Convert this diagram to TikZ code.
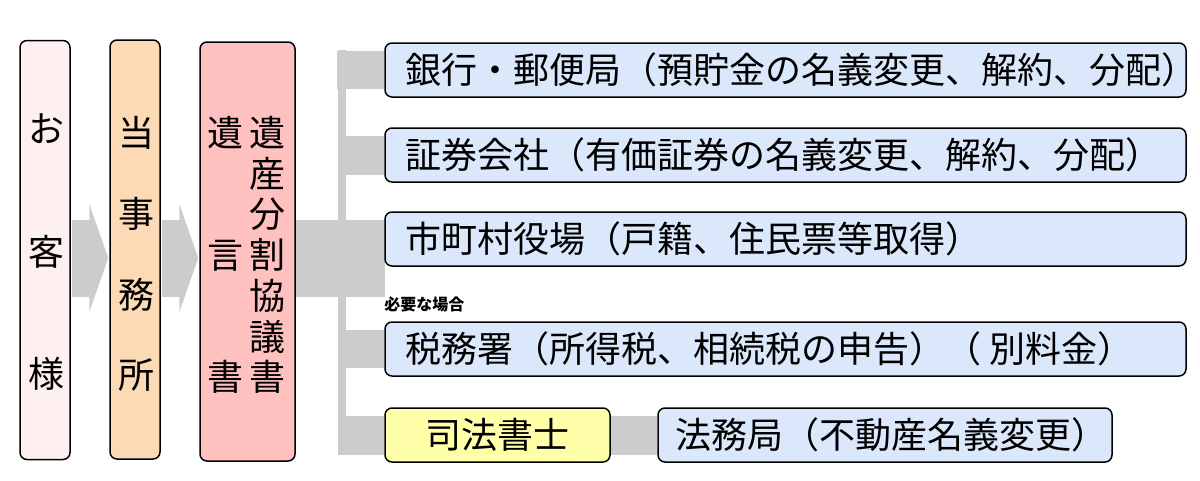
\documentclass[tikz,border=0pt]{standalone}
\usepackage{fontspec}
\setmainfont{Noto Sans CJK JP}
\usetikzlibrary{arrows.meta,backgrounds}
\definecolor{kyakufill}{RGB}{255,240,240}
\definecolor{jimufill}{RGB}{252,218,182}
\definecolor{isanfill}{RGB}{255,192,192}
\definecolor{bluefill}{RGB}{219,231,250}
\definecolor{yellowfill}{RGB}{255,255,170}
\definecolor{barfill}{RGB}{204,204,204}

\begin{document}
\begin{tikzpicture}[x=1pt, y=-1pt,
	frame/.style={draw=black, line width=1.5pt, rounded corners=7pt, inner sep=0pt},
	tallbox/.style={frame, minimum height=419pt},
	bluebox/.style={frame, fill=bluefill, minimum width=801pt, minimum height=54pt},
	bar/.style={draw=barfill},
	flow/.style={bar, line width=77pt, -{Triangle[length=19pt, width=108pt]}, shorten <=1pt, shorten >=1pt},
	lbl/.style={inner sep=0pt, font=\fontsize{36}{42}\selectfont},
	vlbl/.style={inner sep=0pt, align=center, font=\fontsize{36}{#1}\selectfont}]
			%%%%% START %%%%%
			\useasboundingbox (0, 0) rectangle (1200, 480);
			
			% left column
			\node[tallbox, fill=kyakufill, minimum width=50pt] (kyaku) at (45, 250) {};
			\node[tallbox, fill=jimufill, minimum width=50pt] (jimu) at (135, 249.5) {};
			\node[tallbox, fill=isanfill, minimum width=95pt] (isan) at (247.5, 251.5) {};
			
			\node[vlbl=122.5] (kyakutext) at (46, 252.5) {お\\客\\様};
			\node[vlbl=80.7] (jimutext) at (136, 254) {当\\事\\務\\所};
			\node[vlbl=122] (yuigon) at (225, 255) {遺\\言\\書};
			\node[vlbl=40.7] (kyogi) at (267, 255) {遺\\産\\分\\割\\協\\議\\書};
			
			% right column
			\node[bluebox] (bank) at (785.5, 70) {};
			\node[bluebox] (shoken) at (785.5, 155) {};
			\node[bluebox] (shiyaku) at (785.5, 239) {};
			\node[bluebox] (zeimu) at (785.5, 349) {};
			\node[frame, fill=yellowfill, minimum width=225pt, minimum height=54pt] (shiho) at (497.5, 435) {};
			\node[frame, fill=bluefill, minimum width=454pt, minimum height=54pt] (homu) at (885, 435) {};
			
			\node[lbl, anchor=west] (banktext) at ([xshift=21pt]bank.west) {銀行・郵便局（預貯金の名義変更、解約、分配）};
			\node[lbl, anchor=west] (shokentext) at ([xshift=21pt]shoken.west) {証券会社（有価証券の名義変更、解約、分配）};
			\node[lbl, anchor=west] (shiyakutext) at ([xshift=21pt]shiyaku.west) {市町村役場（戸籍、住民票等取得）};
			\node[lbl, anchor=west] (zeimutext) at ([xshift=21pt]zeimu.west) {税務署（所得税、相続税の申告）（ 別料金）};
			\node[lbl] (shihotext) at (shiho) {司法書士};
			\node[lbl, anchor=west] (homutext) at ([xshift=18pt]homu.west) {法務局（不動産名義変更）};
			
			\node[inner sep=0pt, anchor=south west, font=\fontsize{16}{18}\selectfont\bfseries] (note) at ([yshift=9pt]zeimu.north west) {必要な場合};
			
			% gray connectors
			\coordinate (hub) at (385, 258);
			\coordinate (trunktop) at (342, 50);
			\coordinate (trunkend) at (342, 455);
			
			\begin{scope}[on background layer]
			\draw[flow] (kyaku.east |- hub) -- (jimu.west |- hub);
			\draw[flow] (jimu.east |- hub) -- (isan.west |- hub);
			
			\draw[bar, line width=77pt] (isan.east |- hub) -- (hub);
			\draw[bar, line width=8pt] (trunktop) -- (trunkend);
			
			\draw[bar, line width=38pt] (bank.west) -- ++(-47, 0);
			\draw[bar, line width=39pt] (shoken.west) -- ++(-43, 0);
			\draw[bar, line width=38pt] (zeimu.west) -- ++(-43, 0);
			\draw[bar, line width=39pt] (shiho.west) -- ++(-43, 0);
			\draw[bar, line width=39pt] (shiho.east) -- (homu.west);
			\end{scope}
			
			%%%%% END %%%%%
\end{tikzpicture}
\end{document}
